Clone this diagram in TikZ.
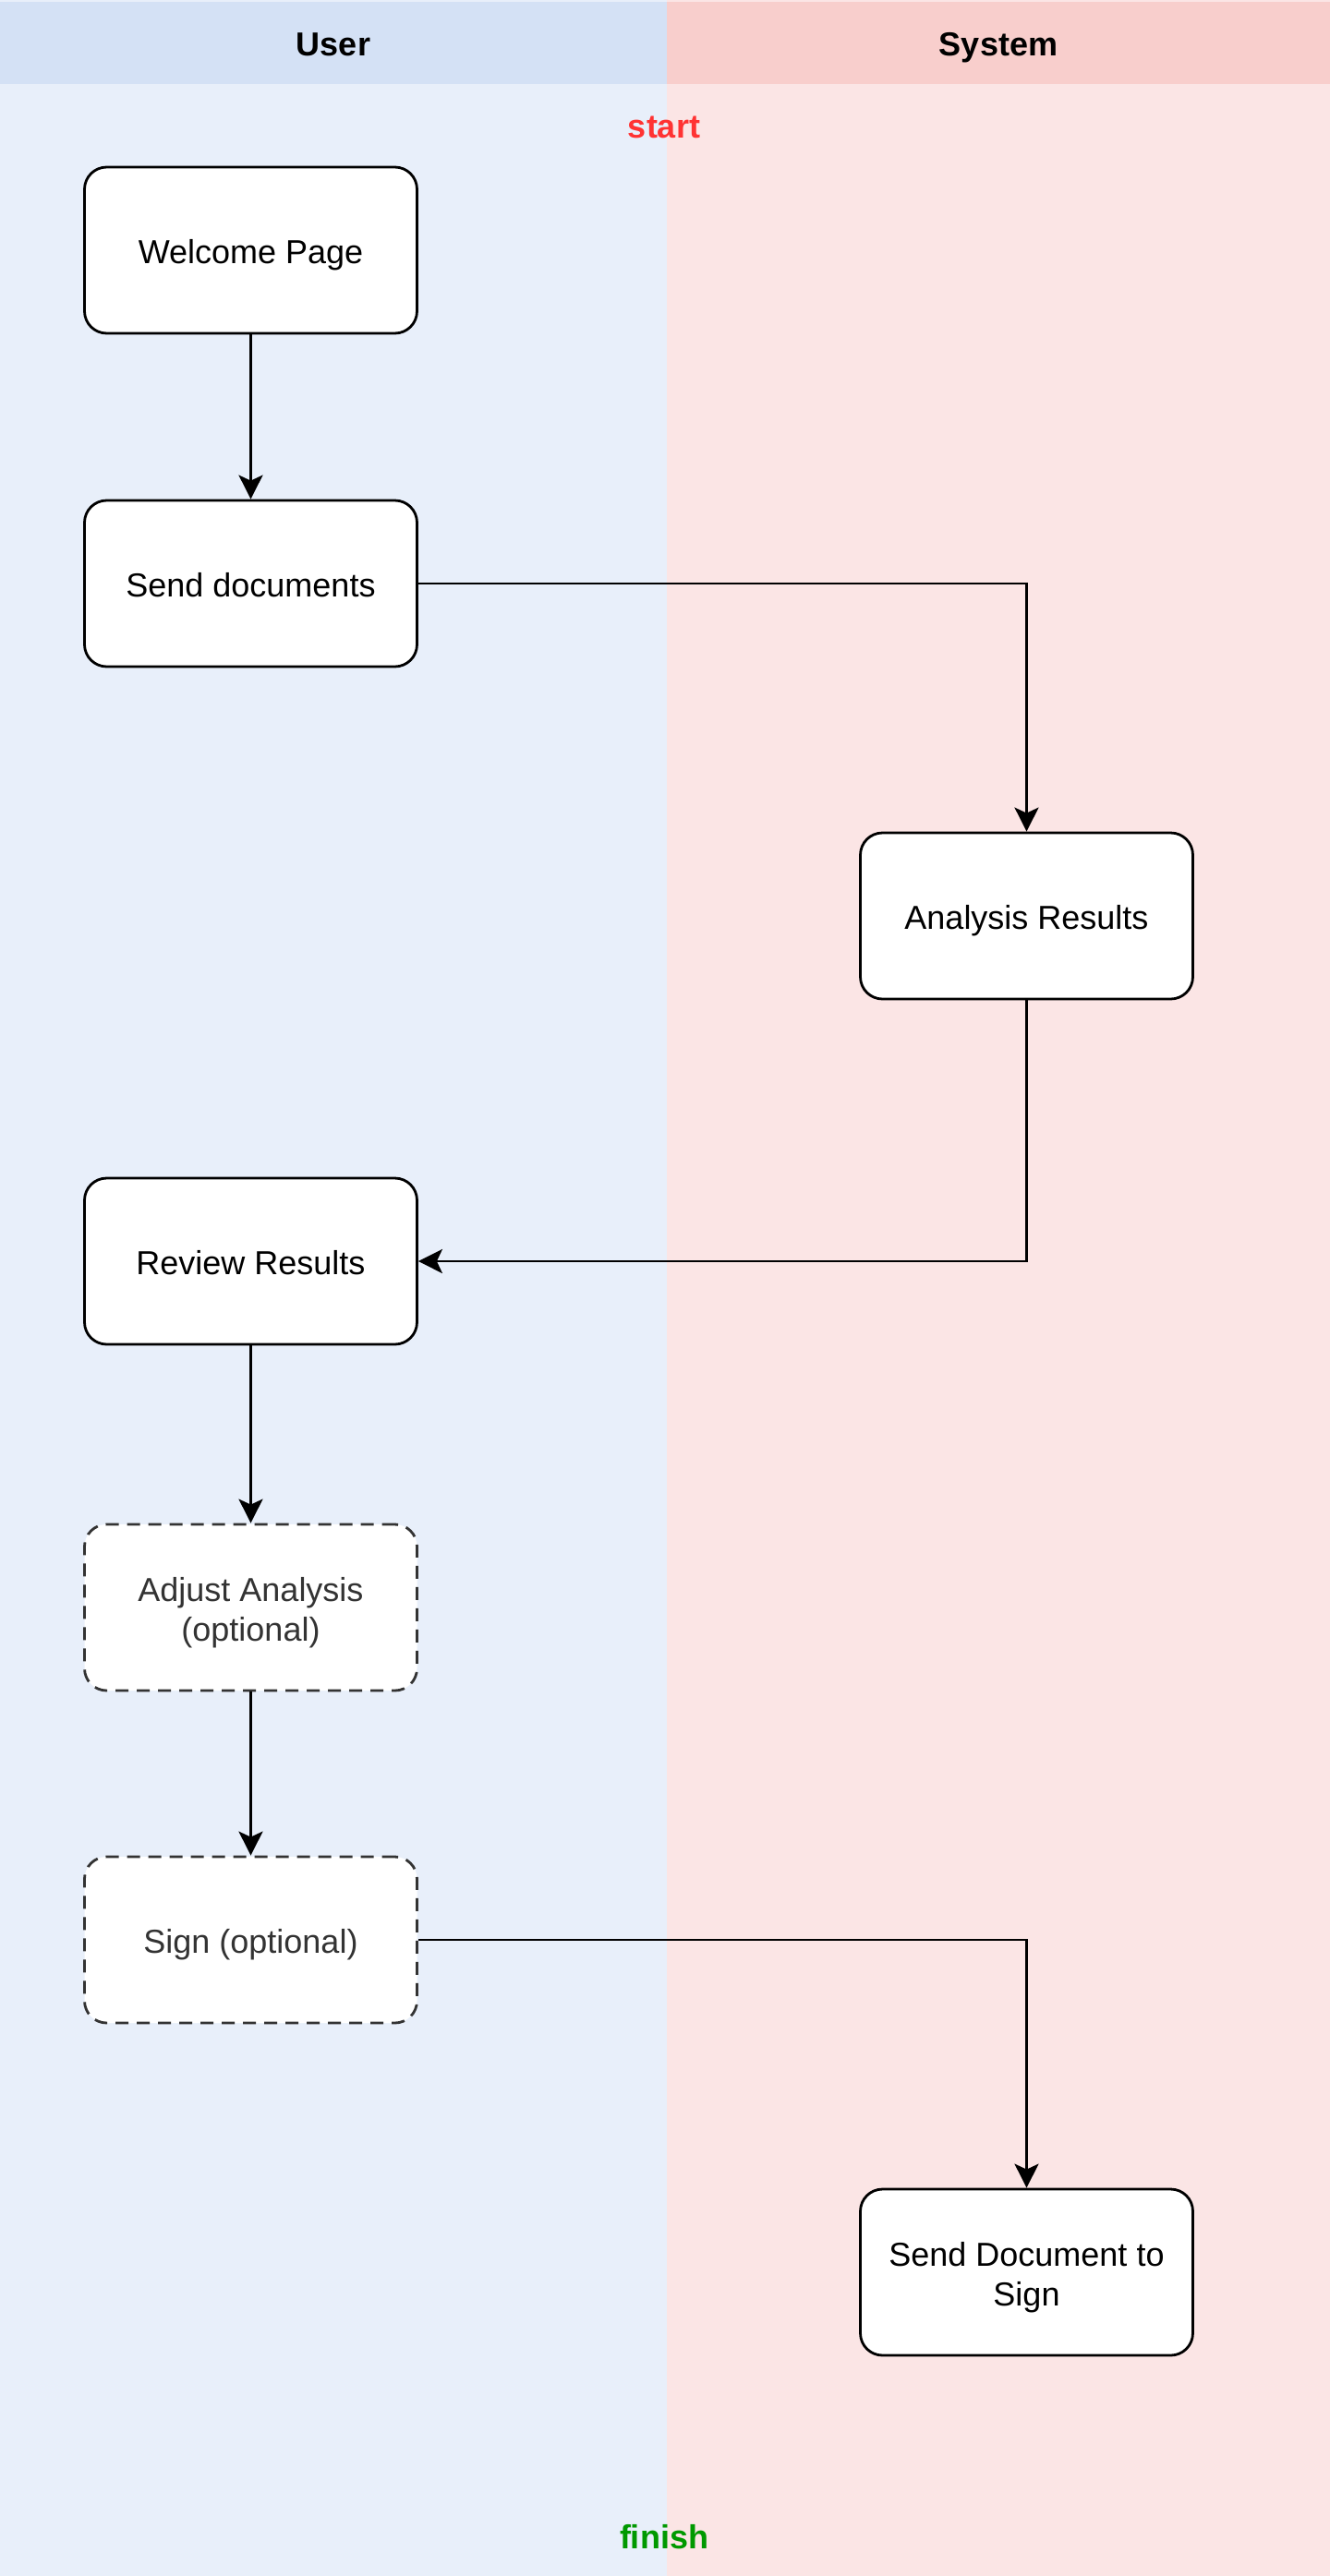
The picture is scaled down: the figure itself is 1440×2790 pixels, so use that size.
\documentclass[tikz,border=0pt]{standalone}
\usepackage{fontspec}
\setmainfont{Liberation Sans}
\usetikzlibrary{arrows.meta}
\definecolor{hdrblue}{RGB}{212,225,245}
\definecolor{bodyblue}{RGB}{232,239,250}
\definecolor{hdrred}{RGB}{248,206,204}
\definecolor{bodyred}{RGB}{251,229,229}
\definecolor{startred}{RGB}{255,51,51}
\definecolor{finishgreen}{RGB}{0,153,0}
\definecolor{darkgray}{RGB}{51,51,51}
\newcommand{\boxtext}[1]{\raisebox{-6pt}[\height][\depth]{\begin{tabular}{@{}c@{}}#1\end{tabular}}}
\tikzset{
  stepbox/.style={draw=black, fill=white, line width=2.8pt, rounded corners=24pt,
    minimum width=360pt, minimum height=180pt, inner sep=0pt,
    font=\fontsize{36}{43.2}\selectfont, text=black},
  optbox/.style={stepbox, draw=darkgray, text=darkgray, dash pattern=on 14pt off 9pt},
  conn/.style={line width=2.8pt, draw=black, -{Stealth[length=26pt,width=26pt,inset=6pt]}},
  lanetitle/.style={font=\bfseries\fontsize{36}{43.2}\selectfont, anchor=base, inner sep=0pt},
  marktext/.style={font=\bfseries\fontsize{36}{43.2}\selectfont, anchor=base, inner sep=0pt}
}
\begin{document}
\begin{tikzpicture}[x=1pt,y=-1pt]
\useasboundingbox (0,0) rectangle (1440,2790);
% lanes
\fill[bodyblue] (0,0) rectangle (722,2790);
\fill[bodyred] (722,0) rectangle (1440,2790);
\fill[hdrblue] (0,1.5) rectangle (722,91);
\fill[hdrred] (722,1.5) rectangle (1440,91);
\node[lanetitle] (usertitle) at (361,60) {User};
\node[lanetitle] (systitle) at (1081,60) {System};
\node[marktext, text=startred] (start) at (719,149) {start};
\node[marktext, text=finishgreen] (finish) at (719,2760) {finish};
% steps
\node[stepbox] (welcome) at (271.5,271) {\boxtext{Welcome Page}};
\node[stepbox] (send) at (271.5,632) {\boxtext{Send documents}};
\node[stepbox] (analysis) at (1111.5,992) {\boxtext{Analysis Results}};
\node[stepbox] (review) at (271.5,1366) {\boxtext{Review Results}};
\node[optbox] (adjust) at (271.5,1741) {\boxtext{Adjust Analysis\\(optional)}};
\node[optbox] (sign) at (271.5,2101) {\boxtext{Sign (optional)}};
\node[stepbox] (senddoc) at (1111.5,2461) {\boxtext{Send Document to\\Sign}};
% connectors
\draw[conn] (welcome) -- (send);
\draw[conn] (send.east) -| (analysis.north);
\draw[conn] (analysis.south) |- (review.east);
\draw[conn] (review) -- (adjust);
\draw[conn] (adjust) -- (sign);
\draw[conn] (sign.east) -| (senddoc.north);
\end{tikzpicture}
\end{document}
